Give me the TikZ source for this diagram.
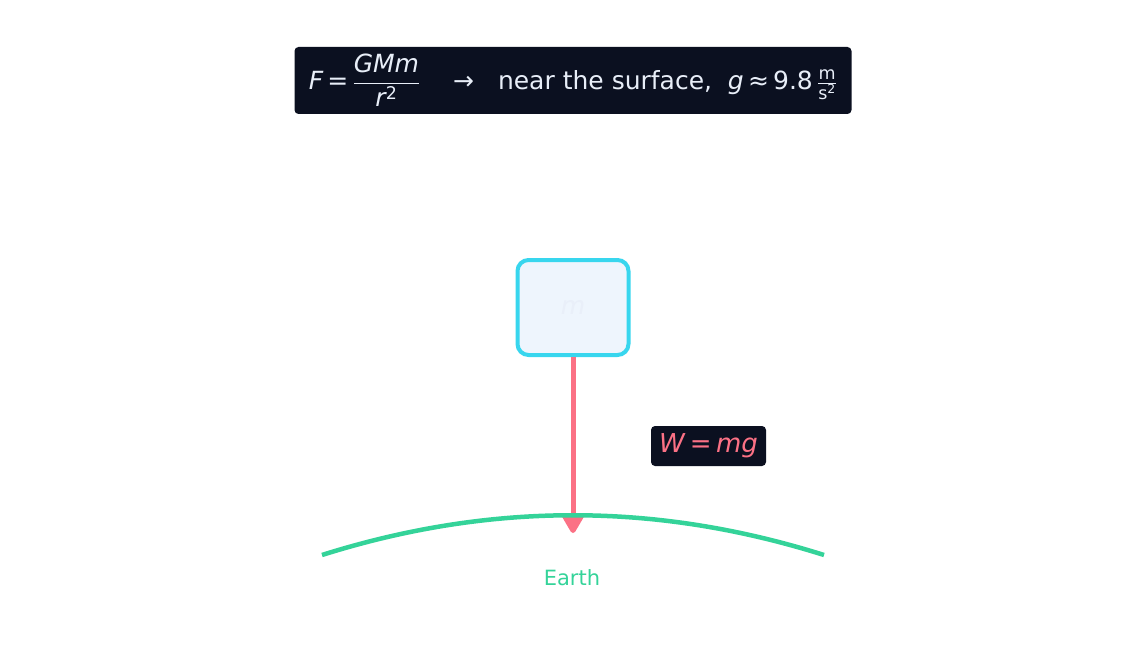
\documentclass[tikz,border=0pt]{standalone}
\usepackage{amsmath}
\usepackage{fontspec}
\setmainfont{DejaVu Sans}
\usetikzlibrary{arrows.meta}
\definecolor{dark}{HTML}{0B1020}
\definecolor{cy}{HTML}{38D6EE}
\definecolor{pale}{HTML}{EEF5FD}
\definecolor{rd}{HTML}{FB7185}
\definecolor{gr}{HTML}{34D399}
\definecolor{tx}{HTML}{E8EEF8}
\newcommand{\iv}[1]{\textit{#1}}
\begin{document}
\begin{tikzpicture}[x=1pt,y=-1pt,
  lbl/.style={fill=dark,rounded corners=4pt,inner sep=0pt,anchor=center}]
\useasboundingbox (0,0) rectangle (1146,666);
\node[lbl,minimum width=557,minimum height=67,text=tx,font=\fontsize{25}{28}\selectfont] (title) at (573,80.5)
 {$\iv{F}\,\text{=}\,\dfrac{\iv{GMm}}{\iv{r}^{\text{2}}}$\quad\ →\ \ \ near the surface,\ \ \iv{g}\,≈\,9.8\,$\frac{\text{m}}{\text{s}^{\text{2}}}$};
\node[draw=cy,line width=4pt,fill=pale,rounded corners=11pt,minimum width=111,minimum height=95,inner sep=0pt,
  text=tx!90!pale,font=\fontsize{25}{28}\selectfont\itshape] (m) at (573,307.5) {m};
\coordinate (tip) at (573,533);
\draw[rd,line width=5pt,-{Triangle[length=22pt,width=24pt,line join=round]}] (m.south) -- (tip);
\node[lbl,minimum width=115,minimum height=40,text=rd,font=\fontsize{26}{28}\selectfont] (w) at (708.5,446) {\iv{W}\,=\,\iv{mg}};
\coordinate (e1) at (322,555);
\coordinate (e2) at (824,555);
\draw[gr,line width=4.5pt] (e1) .. controls (490,502) and (656,502) .. (e2);
\node[text=gr,font=\fontsize{21}{24}\selectfont] (earth) at (572,578) {Earth};
\end{tikzpicture}
\end{document}
